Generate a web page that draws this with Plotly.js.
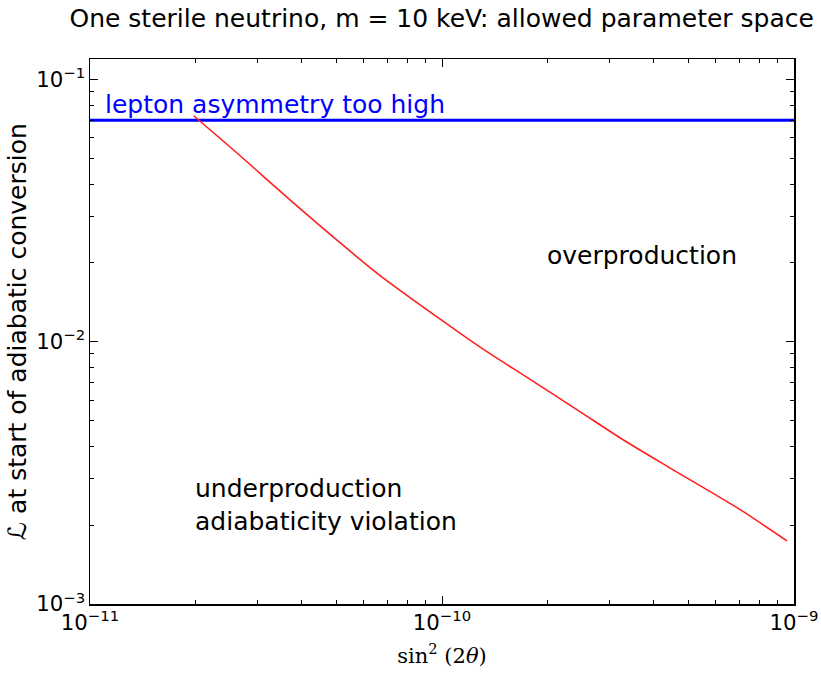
<!DOCTYPE html>
<html>
<head>
<meta charset="utf-8">
<script src="https://cdn.plot.ly/plotly-3.0.1.min.js"></script>
<style>html,body{margin:0;padding:0;background:#fff;}#chart{width:821px;height:675px;}</style>
</head>
<body>
<div id="chart"></div>
<script>
// Red boundary curve: sin^2(2theta) vs lepton asymmetry L
const mixing = [1.97e-11, 2.67e-11, 3.70e-11, 5.13e-11, 6.67e-11, 9.68e-11, 1.28e-10, 1.78e-10, 2.47e-10, 3.21e-10, 4.45e-10, 7.03e-10, 9.55e-10];
const asymmetry = [0.0729, 0.0513, 0.0348, 0.0239, 0.0179, 0.01245, 0.00957, 0.00719, 0.00541, 0.00430, 0.00330, 0.00229, 0.00174];
// Blue limit line: lepton asymmetry too high
const limitX = [1e-11, 1e-9];
const limitY = [0.070, 0.070];
// Region labels
const labelText = ["lepton asymmetry too high", "overproduction", "underproduction<br>adiabaticity violation"];

const traces = [
  {x: limitX, y: limitY, mode: 'lines', line: {color: '#0000ff', width: 3}, hoverinfo: 'skip'},
  {x: mixing, y: asymmetry, mode: 'lines', line: {color: '#ff2020', width: 1.6, shape: 'spline', smoothing: 0.8}, hoverinfo: 'skip'}
];

const font = 'DejaVu Sans, sans-serif';
const axisCommon = {
  type: 'log', showgrid: false, zeroline: false,
  showline: true, linecolor: '#000', linewidth: 1.5, mirror: 'allticks',
  ticks: 'inside', ticklen: 8, tickwidth: 1, tickcolor: '#000',
  exponentformat: 'power', dtick: 1,
  tickfont: {family: font, size: 17, color: '#000'},
  minor: {ticks: 'inside', ticklen: 4, tickwidth: 1, tickcolor: '#000', dtick: 'D1', showgrid: false}
};

const layout = {
  width: 821, height: 675,
  margin: {l: 90, r: 27, t: 59, b: 71},
  paper_bgcolor: '#fff', plot_bgcolor: '#fff',
  showlegend: false,
  title: {text: 'One sterile neutrino, m = 10 keV: allowed parameter space', font: {family: font, size: 25, color: '#000'}, x: 0.538, xanchor: 'center', y: 0.973, yanchor: 'middle'},
  xaxis: Object.assign({}, axisCommon, {
    range: [-11, -9],
    ticklabeloverflow: 'allow',
    title: {text: 'sin<sup>2</sup> (2<i>θ</i>)', font: {family: 'DejaVu Serif, serif', size: 21, color: '#000'}, standoff: 14}
  }),
  yaxis: Object.assign({}, axisCommon, {
    range: [-3, Math.log10(0.12)],
    title: {text: '<i>ℒ</i> at start of adiabatic conversion', font: {family: font, size: 25, color: '#000'}, standoff: 2}
  }),
  annotations: [
    {text: labelText[0], xref: 'paper', yref: 'paper', x: 0.019, y: 0.917, xanchor: 'left', yanchor: 'middle', showarrow: false, font: {family: font, size: 25, color: '#0000ff'}},
    {text: labelText[1], xref: 'paper', yref: 'paper', x: 0.647, y: 0.640, xanchor: 'left', yanchor: 'middle', showarrow: false, font: {family: font, size: 25, color: '#000'}},
    {text: labelText[2], xref: 'paper', yref: 'paper', x: 0.146, y: 0.182, xanchor: 'left', yanchor: 'middle', align: 'left', showarrow: false, font: {family: font, size: 25, color: '#000'}}
  ]
};

Plotly.newPlot('chart', traces, layout, {staticPlot: true, displayModeBar: false});
</script>
</body>
</html>
